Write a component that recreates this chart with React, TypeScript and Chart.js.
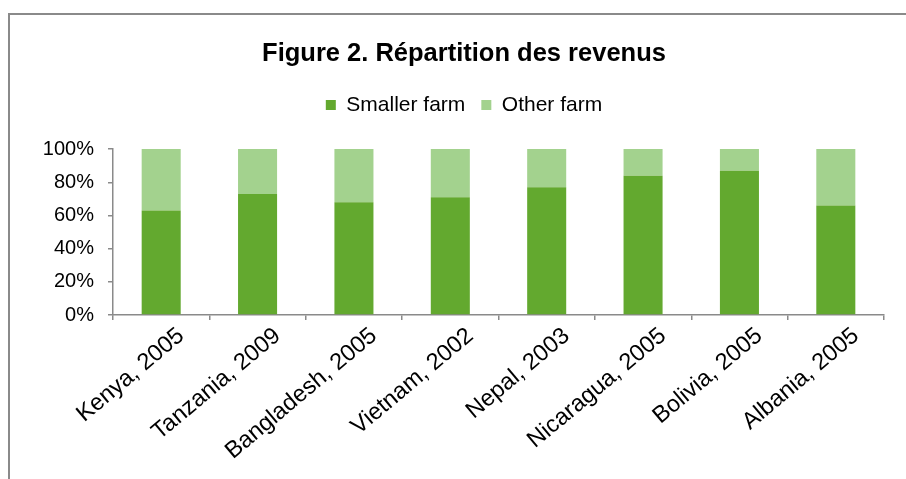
import React, { useEffect, useRef } from "react";
import { Chart, registerables } from "chart.js";

Chart.register(...registerables);

const categories = [
  "Kenya, 2005",
  "Tanzania, 2009",
  "Bangladesh, 2005",
  "Vietnam, 2002",
  "Nepal, 2003",
  "Nicaragua, 2005",
  "Bolivia, 2005",
  "Albania, 2005",
];
const smallerFarm = [63, 73, 68, 71, 77, 84, 87, 66];
const otherFarm = [37, 27, 32, 29, 23, 16, 13, 34];
const yTicks = [0, 20, 40, 60, 80, 100];

const FONT = "'Liberation Sans', Arial, sans-serif";
const AXIS = "#8a8a8a";

export default function App() {
  const ref = useRef<HTMLCanvasElement | null>(null);

  useEffect(() => {
    document.documentElement.style.overflow = "hidden";
    const canvas = ref.current;
    if (!canvas) return;
    const chart = new Chart(canvas, {
      type: "bar",
      data: {
        labels: categories,
        datasets: [
          {
            label: "Smaller farm",
            data: smallerFarm,
            backgroundColor: "#63A92F",
            borderWidth: 0,
            barPercentage: 0.405,
            categoryPercentage: 1,
          },
          {
            label: "Other farm",
            data: otherFarm,
            backgroundColor: "#A3D28E",
            borderWidth: 0,
            barPercentage: 0.405,
            categoryPercentage: 1,
          },
        ],
      },
      options: {
        responsive: false,
        animation: false,
        devicePixelRatio: 1,
        layout: { padding: 0 },
        plugins: {
          title: {
            display: true,
            text: "Figure 2. Répartition des revenus",
            color: "#000",
            font: { family: FONT, size: 25.5, weight: "bold", lineHeight: 1.2 },
            padding: { top: 23.5, bottom: 9.5 },
          },
          legend: {
            display: true,
            position: "top",
            labels: {
              boxWidth: 10,
              boxHeight: 10,
              padding: 16,
              color: "#000",
              font: { family: FONT, size: 21 },
            },
          },
          subtitle: {
            display: true,
            text: "",
            weight: 500,
            font: { family: FONT, size: 1, lineHeight: 1 },
            padding: { top: 22.5, bottom: 0 },
          } as any,
          tooltip: { enabled: false },
        },
        scales: {
          x: {
            stacked: true,
            offset: true,
            grid: {
              offset: true,
              drawOnChartArea: false,
              drawTicks: true,
              tickLength: 5,
              color: AXIS,
              lineWidth: 1.5,
            },
            border: { display: true, color: AXIS, width: 1.5 },
            ticks: {
              autoSkip: false,
              minRotation: 40,
              maxRotation: 40,
              labelOffset: 20,
              padding: 2,
              color: "#000",
              font: { family: FONT, size: 23.5 },
            },
            afterFit: (scale: any) => {
              scale.height = 156;
            },
          },
          y: {
            stacked: true,
            min: 0,
            max: 100,
            grid: {
              drawOnChartArea: false,
              drawTicks: true,
              tickLength: 5,
              color: AXIS,
              lineWidth: 1.5,
            },
            border: { display: true, color: AXIS, width: 1.5 },
            afterBuildTicks: (scale: any) => {
              scale.ticks = yTicks.map((v) => ({ value: v }));
            },
            ticks: {
              padding: 14,
              color: "#000",
              font: { family: FONT, size: 20 },
              callback: (v: any) => v + "%",
            },
            afterFit: (scale: any) => {
              scale.width = 103;
            },
          },
          yRight: {
            type: "linear",
            position: "right",
            display: true,
            grid: { display: false, drawTicks: false },
            border: { display: false },
            ticks: { display: false },
            afterFit: (scale: any) => {
              scale.width = 34;
            },
          },
        },
      },
    });
    return () => chart.destroy();
  }, []);

  return (
    <div
      style={{
        position: "fixed",
        left: 8,
        top: 8,
        right: 0,
        bottom: 0,
        overflow: "hidden",
      }}
    >
      <div
        style={{
          position: "absolute",
          left: 0,
          top: 5,
          width: 908,
          height: 470,
          borderLeft: "2px solid #8a8a8a",
          borderTop: "2px solid #8a8a8a",
          background: "#fff",
        }}
      >
        <canvas
          ref={ref}
          width={908}
          height={456}
          style={{ display: "block", width: 908, height: 456 }}
        />
      </div>
    </div>
  );
}
